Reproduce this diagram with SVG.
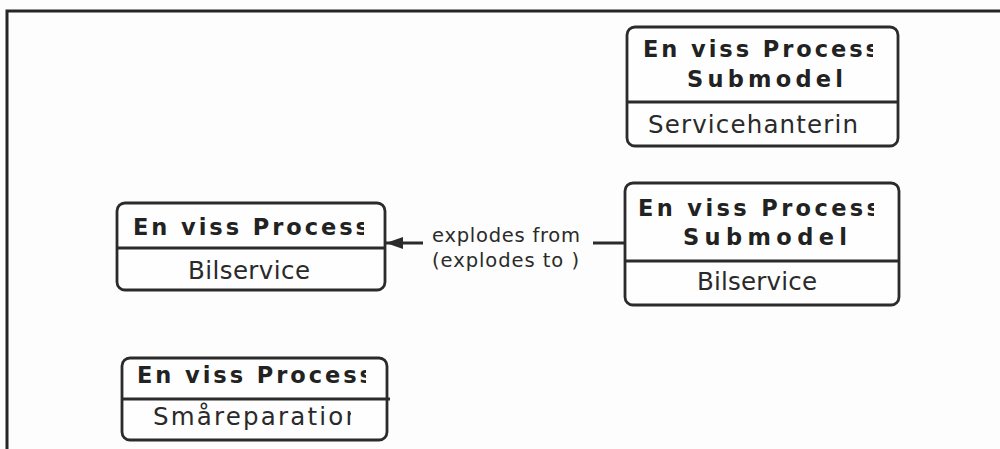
<svg xmlns="http://www.w3.org/2000/svg" width="1000" height="449" viewBox="0 0 1000 449">
  <style>
    .box { fill: #fdfefd; stroke: #2b2b2b; stroke-width: 2.8; }
    .div { stroke: #2b2b2b; stroke-width: 2.8; }
    .ttl { font-family: "DejaVu Sans", "Liberation Sans", sans-serif; font-weight: bold; font-size: 22.5px; fill: #222; }
    .nm { font-family: "DejaVu Sans", "Liberation Sans", sans-serif; font-size: 24.5px; fill: #2a2a2a; }
    .lbl { font-family: "DejaVu Sans", "Liberation Sans", sans-serif; font-size: 19.5px; fill: #2a2a2a; }
    .conn { stroke: #2b2b2b; stroke-width: 3; fill: none; }
  </style>
  <defs>
    <marker id="arrow" markerUnits="userSpaceOnUse" markerWidth="18" markerHeight="12" refX="17" refY="6" orient="auto">
      <path d="M0,0 L17,6 L0,12 Z" fill="#2b2b2b"/>
    </marker>
    <clipPath id="clipTop"><rect x="627" y="27" width="246" height="75"/></clipPath>
    <clipPath id="clipMid"><rect x="625" y="183" width="249" height="78"/></clipPath>
    <clipPath id="clipLeft"><rect x="117" y="203" width="247" height="45"/></clipPath>
    <clipPath id="clipLow"><rect x="122" y="358" width="244" height="41"/></clipPath>
    <clipPath id="clipLowName"><rect x="122" y="399" width="229" height="41"/></clipPath>
  </defs>

  <rect width="1000" height="449" fill="#fcfdfc"/>

  <!-- page frame -->
  <path d="M7,449 L7,11 L1000,11" fill="none" stroke="#262626" stroke-width="3"/>

  <!-- top-right submodel -->
  <g id="submodel-servicehantering">
    <rect class="box" x="627" y="27" width="271" height="119" rx="8"/>
    <line class="div" x1="627" y1="102" x2="898" y2="102"/>
    <text class="ttl" x="643" y="57" textLength="236" lengthAdjust="spacing" clip-path="url(#clipTop)">En viss Process</text>
    <text class="ttl" x="687" y="87" textLength="156" lengthAdjust="spacing">Submodel</text>
    <text class="nm" x="648" y="133" textLength="210" lengthAdjust="spacing">Servicehanterin</text>
  </g>

  <!-- middle-right submodel -->
  <g id="submodel-bilservice">
    <rect class="box" x="625" y="183" width="274" height="122" rx="8"/>
    <line class="div" x1="625" y1="261" x2="899" y2="261"/>
    <text class="ttl" x="638" y="216" textLength="242" lengthAdjust="spacing" clip-path="url(#clipMid)">En viss Process</text>
    <text class="ttl" x="683" y="245" textLength="164" lengthAdjust="spacing">Submodel</text>
    <text class="nm" x="697" y="290" textLength="120" lengthAdjust="spacing">Bilservice</text>
  </g>

  <!-- left process -->
  <g id="process-bilservice">
    <rect class="box" x="117" y="203" width="268" height="87" rx="8"/>
    <line class="div" x1="117" y1="248" x2="385" y2="248"/>
    <text class="ttl" x="133" y="235" textLength="236" lengthAdjust="spacing" clip-path="url(#clipLeft)">En viss Process</text>
    <text class="nm" x="188" y="279" textLength="122" lengthAdjust="spacing">Bilservice</text>
  </g>

  <!-- lower process -->
  <g id="process-smareparation">
    <rect class="box" x="122" y="358" width="265" height="82" rx="8"/>
    <line class="div" x1="122" y1="399" x2="390" y2="399"/>
    <text class="ttl" x="137" y="383" textLength="236" lengthAdjust="spacing" clip-path="url(#clipLow)">En viss Process</text>
    <text class="nm" x="153" y="425" textLength="208" lengthAdjust="spacing" clip-path="url(#clipLowName)">Småreparation</text>
  </g>

  <!-- connectors -->
  <g id="connectors">
    <line class="conn" x1="593" y1="243" x2="625" y2="243"/>
    <line class="conn" x1="423" y1="243" x2="386" y2="243" marker-end="url(#arrow)"/>
    <text class="lbl" x="432" y="242" textLength="148" lengthAdjust="spacing">explodes from</text>
    <text class="lbl" x="432" y="267" textLength="147" lengthAdjust="spacing">(explodes to )</text>
  </g>
</svg>
